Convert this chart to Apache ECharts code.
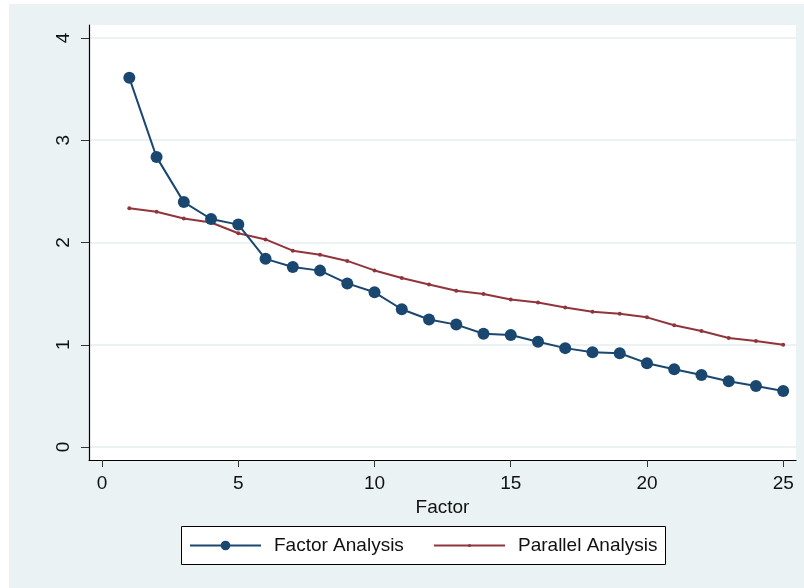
<!DOCTYPE html>
<html>
<head>
<meta charset="utf-8">
<script src="https://cdn.jsdelivr.net/npm/echarts@6/dist/echarts.min.js"></script>
<style>
  html, body { margin: 0; padding: 0; background: #fff; }
  #chart { width: 804px; height: 588px; }
</style>
</head>
<body>
<div id="chart"></div>
<script>
// factor number on the x axis
const factors = [1, 2, 3, 4, 5, 6, 7, 8, 9, 10, 11, 12, 13, 14, 15, 16, 17, 18, 19, 20, 21, 22, 23, 24, 25]
// eigenvalues
const factorAnalysis = [3.61, 2.835, 2.395, 2.23, 2.175, 1.84, 1.76, 1.725, 1.60, 1.513, 1.347, 1.247, 1.197, 1.108, 1.095, 1.03, 0.967, 0.927, 0.917, 0.82, 0.76, 0.705, 0.643, 0.596, 0.548]
const parallelAnalysis = [2.336, 2.30, 2.235, 2.196, 2.09, 2.03, 1.92, 1.88, 1.82, 1.727, 1.652, 1.59, 1.528, 1.496, 1.443, 1.414, 1.365, 1.323, 1.303, 1.268, 1.19, 1.134, 1.066, 1.036, 1.0]
const xTicks = [0, 5, 10, 15, 20, 25]
const yTicks = [0, 1, 2, 3, 4]

const font = '"Liberation Sans", Arial, sans-serif'
const legendText = { color: '#111', fontSize: 19, fontFamily: font, padding: [0, 0, 0, 8] }
const chart = echarts.init(document.getElementById('chart'), null, { renderer: 'canvas' })

chart.setOption({
  animation: false,
  backgroundColor: '#fff',
  graphic: [
    {
      type: 'rect',
      z: -10,
      shape: { x: 9, y: 4, width: 795, height: 584 },
      style: { fill: '#EAF2F3' }
    },
    // legend box
    {
      type: 'rect',
      z: -5,
      shape: { x: 181.5, y: 526.5, width: 484, height: 38 },
      style: { fill: '#fff', stroke: '#000', lineWidth: 1 }
    }
  ],
  grid: {
    left: 89,
    right: 8,
    top: 25,
    bottom: 128,
    show: true,
    backgroundColor: '#fff',
    borderWidth: 0
  },
  xAxis: {
    type: 'value',
    min: -0.48,
    max: 25.47,
    name: 'Factor',
    nameLocation: 'middle',
    nameGap: 34,
    nameTextStyle: { color: '#111', fontSize: 19, fontFamily: font },
    axisLine: { show: true, onZero: false, lineStyle: { color: '#000', width: 1.2 } },
    axisTick: { show: true, length: 7, lineStyle: { color: '#333' }, customValues: xTicks },
    axisLabel: { color: '#111', fontSize: 19, fontFamily: font, margin: 14, customValues: xTicks },
    splitLine: { show: false }
  },
  yAxis: {
    type: 'value',
    min: -0.127,
    max: 4.127,
    axisLine: { show: true, onZero: false, lineStyle: { color: '#000', width: 1.2 } },
    axisTick: { show: true, length: 8, lineStyle: { color: '#333' }, customValues: yTicks },
    axisLabel: { color: '#111', fontSize: 19, fontFamily: font, rotate: 90, margin: 16, customValues: yTicks },
    splitLine: { show: true, lineStyle: { color: '#EAF2F3', width: 2 } }
  },
  legend: [
    {
      left: 189,
      top: 536,
      padding: 0,
      itemWidth: 71,
      itemHeight: 12,
      textStyle: legendText,
      data: ['Factor Analysis']
    },
    {
      left: 433,
      top: 536,
      padding: 0,
      itemWidth: 71,
      itemHeight: 4,
      textStyle: legendText,
      data: ['Parallel Analysis']
    }
  ],
  series: [
    {
      name: 'Factor Analysis',
      type: 'line',
      data: factors.map((f, i) => [f, factorAnalysis[i]]),
      symbol: 'circle',
      symbolSize: 12,
      itemStyle: { color: '#1A476F' },
      lineStyle: { color: '#1A476F', width: 2 },
      z: 3
    },
    {
      name: 'Parallel Analysis',
      type: 'line',
      data: factors.map((f, i) => [f, parallelAnalysis[i]]),
      symbol: 'circle',
      symbolSize: 4,
      itemStyle: { color: '#90353B' },
      lineStyle: { color: '#90353B', width: 2 },
      z: 2
    }
  ]
})
</script>
</body>
</html>
